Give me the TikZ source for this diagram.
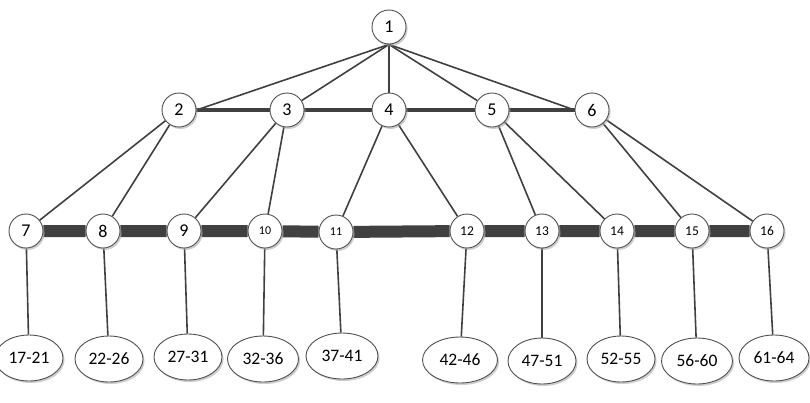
\documentclass[tikz,border=0pt]{standalone}
\usepackage{fontspec}
\setmainfont{Carlito}
\usetikzlibrary{shapes.geometric,shadows,backgrounds}
\definecolor{edgegray}{HTML}{404040}
\definecolor{rimgray}{HTML}{505050}
\tikzset{
  shade/.style={drop shadow={shadow xshift=1.6pt,shadow yshift=-2pt,fill=black!35,opacity=0.55}},
  circ/.style={circle,draw=rimgray,line width=0.9pt,fill=white,minimum size=34pt,inner sep=0pt,shade,font=\fontsize{18}{18}\selectfont},
  circs/.style={circ,font=\fontsize{12}{12}\selectfont},
  circm/.style={circ,font=\fontsize{13.5}{14}\selectfont},
  leaf/.style={ellipse,draw=rimgray,line width=0.9pt,fill=white,minimum width=68pt,minimum height=46pt,inner sep=0pt,shade,font=\fontsize{17.5}{18}\selectfont},
  link/.style={draw=edgegray,line width=1.6pt},
  bar/.style={draw=edgegray,line width=4pt},
  thickbar/.style={draw=edgegray,line width=12pt},
}
\begin{document}
\begin{tikzpicture}[x=1pt,y=-1pt]
\useasboundingbox (0,0) rectangle (810,402);
% level 1
\node[circ] (n1) at (389,27) {1};
% level 2
\node[circ] (n2) at (179,110) {2};
\node[circ] (n3) at (287,110) {3};
\node[circ] (n4) at (389,110) {4};
\node[circ] (n5) at (492,110) {5};
\node[circ] (n6) at (592,110) {6};
% level 3
\node[circ] (n7) at (26,231) {7};
\node[circ] (n8) at (103,231) {8};
\node[circ] (n9) at (184,231) {9};
\node[circs] (n10) at (265,231) {10};
\node[circs] (n11) at (336,232) {11};
\node[circm] (n12) at (467,231) {12};
\node[circm] (n13) at (542,231) {13};
\node[circm] (n14) at (617,231) {14};
\node[circm] (n15) at (692,231) {15};
\node[circm] (n16) at (767,231) {16};
% leaves
\node[leaf] (l1) at (29,358) {17-21};
\node[leaf] (l2) at (109,359) {22-26};
\node[leaf] (l3) at (188,357) {27-31};
\node[leaf,minimum width=71pt] (l4) at (263,359) {32-36};
\node[leaf,minimum width=72pt] (l5) at (342,356) {37-41};
\node[leaf,minimum width=75pt] (l6) at (460,360) {42-46};
\node[leaf] (l7) at (542,361) {47-51};
\node[leaf] (l8) at (621,359) {52-55};
\node[leaf,minimum width=71pt] (l9) at (697,361) {56-60};
\node[leaf,minimum width=70pt] (l10) at (774,358) {61-64};
\begin{scope}[on background layer]
  % bars
  \path[bar] (n2) -- (n3) -- (n4) -- (n5) -- (n6);
  \path[thickbar] (n7) -- (n8) -- (n9) -- (n10) -- (n11) -- (n12) -- (n13) -- (n14) -- (n15) -- (n16);
  % root links
  \path[link] (n1.south) -- (n2.east);
  \path[link] (n1.south) -- (n3);
  \path[link] (n1.south) -- (n4);
  \path[link] (n1.south) -- (n5);
  \path[link] (n1.south) -- (n6.west);
  % level 2 to level 3
  \path[link] (n2) -- (n7);
  \path[link] (n2) -- (n8);
  \path[link] (n3) -- (n9);
  \path[link] (n3) -- (n10);
  \path[link] (n4) -- (n11);
  \path[link] (n4) -- (n12);
  \path[link] (n5) -- (n13);
  \path[link] (n5) -- (n14);
  \path[link] (n6) -- (n15);
  \path[link] (n6) -- (n16);
  % level 3 to leaves
  \path[link] (n7) -- (l1);
  \path[link] (n8) -- (l2);
  \path[link] (n9) -- (l3);
  \path[link] (n10) -- (l4);
  \path[link] (n11) -- (l5);
  \path[link] (n12) -- (l6);
  \path[link] (n13) -- (l7);
  \path[link] (n14) -- (l8);
  \path[link] (n15) -- (l9);
  \path[link] (n16) -- (l10);
\end{scope}
\end{tikzpicture}
\end{document}
